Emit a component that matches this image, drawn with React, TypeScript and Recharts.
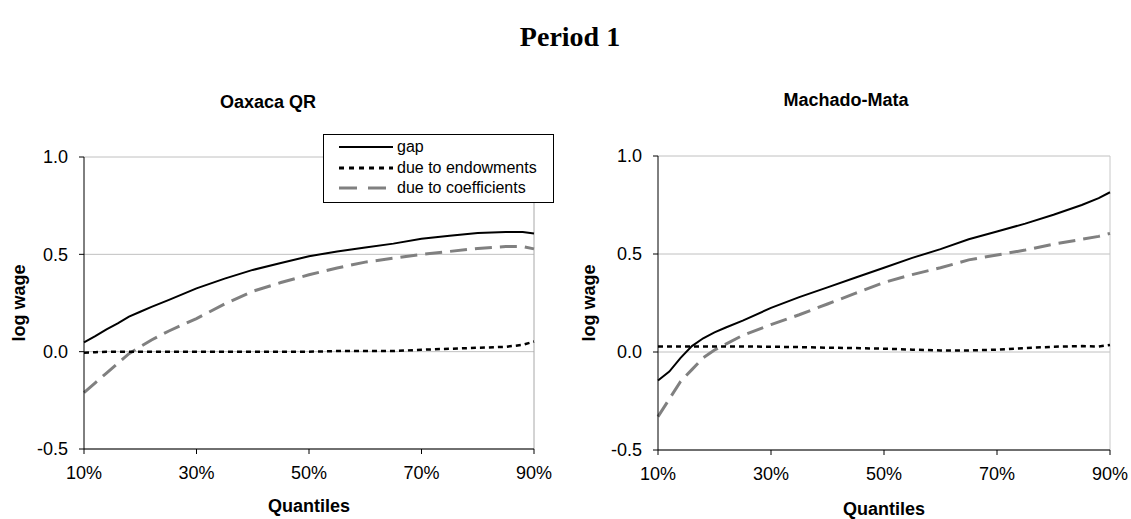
import React from 'react';
import { LineChart, Line, XAxis, YAxis, CartesianGrid, ReferenceLine } from 'recharts';

// quantile points (percent)
const quantiles = [10, 12, 14, 16, 18, 20, 22, 25, 30, 35, 40, 45, 50, 55, 60, 65, 70, 75, 80, 85, 88, 90];

// Oaxaca QR
const gapOaxaca = [0.048, 0.08, 0.115, 0.145, 0.18, 0.205, 0.23, 0.265, 0.325, 0.375, 0.42, 0.455, 0.49, 0.515, 0.535, 0.555, 0.58, 0.595, 0.61, 0.615, 0.615, 0.607];
const endowOaxaca = [-0.005, -0.003, 0, 0, 0, 0, 0, 0, 0, 0, 0, 0, 0, 0.003, 0.003, 0.003, 0.01, 0.015, 0.02, 0.025, 0.035, 0.052];
const coefOaxaca = [-0.21, -0.16, -0.11, -0.06, -0.01, 0.025, 0.06, 0.105, 0.17, 0.245, 0.31, 0.355, 0.395, 0.43, 0.46, 0.48, 0.5, 0.515, 0.53, 0.54, 0.54, 0.528];

// Machado-Mata
const gapMM = [-0.145, -0.1, -0.03, 0.03, 0.07, 0.1, 0.125, 0.16, 0.225, 0.28, 0.33, 0.38, 0.43, 0.48, 0.525, 0.575, 0.615, 0.655, 0.7, 0.75, 0.785, 0.815];
const endowMM = [0.028, 0.028, 0.028, 0.028, 0.028, 0.028, 0.028, 0.028, 0.027, 0.025, 0.022, 0.02, 0.017, 0.012, 0.008, 0.008, 0.012, 0.02, 0.027, 0.03, 0.028, 0.036];
const coefMM = [-0.33, -0.24, -0.15, -0.09, -0.03, 0.01, 0.04, 0.085, 0.14, 0.19, 0.245, 0.3, 0.355, 0.395, 0.43, 0.47, 0.495, 0.52, 0.55, 0.575, 0.59, 0.605];

const xTicks = [10, 30, 50, 70, 90];
const yTicks = [-0.5, 0, 0.5, 1];

const SANS = '"Liberation Sans", Arial, sans-serif';

const buildRows = (gap: number[], endow: number[], coef: number[]) =>
  quantiles.map((q, i) => ({ q, gap: gap[i], endow: endow[i], coef: coef[i] }));

interface PanelProps {
  rows: any[];
  width: number;
  yAxisWidth: number;
  top: number;
  plotHeight: number;
  right: number;
  borderColor: string;
}

const Panel: React.FC<PanelProps> = ({ rows, width, yAxisWidth, top, plotHeight, right, borderColor }) => {
  const height = 519;
  const tickStyle = { fontSize: 18, fill: '#000', fontFamily: SANS };
  return (
    <LineChart
      width={width}
      height={height}
      data={rows}
      margin={{ top, right, bottom: 0, left: 0 }}
    >
      <CartesianGrid vertical={false} stroke="#c0c0c0" />
      <ReferenceLine x={90} stroke={borderColor} />
      <XAxis
        type="number"
        dataKey="q"
        domain={[10, 90]}
        ticks={xTicks}
        tickFormatter={(v) => `${v}%`}
        height={height - top - plotHeight}
        stroke="#000"
        tickSize={5}
        tickMargin={12}
        tick={tickStyle}
        interval={0}
      />
      <YAxis
        type="number"
        domain={[-0.5, 1]}
        ticks={yTicks}
        tickFormatter={(v) => Number(v).toFixed(1)}
        width={yAxisWidth}
        stroke="#000"
        tickSize={5}
        tickMargin={11}
        tick={tickStyle}
        interval={0}
      />
      <Line type="linear" dataKey="coef" stroke="#808080" strokeWidth={3} strokeDasharray="17 8" dot={false} isAnimationActive={false} />
      <Line type="linear" dataKey="endow" stroke="#000" strokeWidth={2.5} strokeDasharray="5 4" dot={false} isAnimationActive={false} />
      <Line type="linear" dataKey="gap" stroke="#000" strokeWidth={2} dot={false} isAnimationActive={false} />
    </LineChart>
  );
};

const abs = (left: number, top: number, extra: React.CSSProperties = {}): React.CSSProperties => ({
  position: 'absolute',
  left,
  top,
  ...extra,
});

const LegendRow: React.FC<{ label: string; stroke: string; dash?: string; width: number; top: number }> = ({ label, stroke, dash, width, top }) => (
  <div style={abs(15, top, { display: 'flex', alignItems: 'center', whiteSpace: 'nowrap' })}>
    <svg width={54} height={6} style={{ display: 'block' }}>
      <line x1={0} y1={3} x2={54} y2={3} stroke={stroke} strokeWidth={width} strokeDasharray={dash} />
    </svg>
    <span style={{ marginLeft: 4, fontSize: 16, fontFamily: SANS, lineHeight: '18px' }}>{label}</span>
  </div>
);

export default function App() {
  const rowsOaxaca = buildRows(gapOaxaca, endowOaxaca, coefOaxaca);
  const rowsMM = buildRows(gapMM, endowMM, coefMM);

  const subTitle: React.CSSProperties = {
    fontFamily: SANS,
    fontWeight: 'bold',
    fontSize: 18,
    whiteSpace: 'nowrap',
    transform: 'translateX(-50%)',
  };
  const yLabel: React.CSSProperties = {
    fontFamily: SANS,
    fontWeight: 'bold',
    fontSize: 18,
    whiteSpace: 'nowrap',
    transform: 'translate(-50%, -50%) rotate(-90deg)',
  };

  return (
    <div style={{ position: 'absolute', left: 0, top: 0, width: 1131, height: 519, background: '#fff', overflow: 'hidden' }}>
      <div style={abs(0, 0)}>
        <Panel rows={rowsOaxaca} width={565} yAxisWidth={84} top={157} plotHeight={292} right={31} borderColor="#a8a8a8" />
      </div>
      <div style={abs(565, 0)}>
        <Panel rows={rowsMM} width={566} yAxisWidth={93} top={156} plotHeight={294} right={21} borderColor="#c8c8c8" />
      </div>

      <div style={abs(570, 21, { ...subTitle, fontFamily: '"Liberation Serif", "Times New Roman", serif', fontSize: 28, lineHeight: '32px' })}>
        Period 1
      </div>
      <div style={abs(268, 91, { ...subTitle, lineHeight: '22px' })}>Oaxaca QR</div>
      <div style={abs(846, 89, { ...subTitle, lineHeight: '22px' })}>Machado-Mata</div>

      <div style={abs(19, 303, yLabel)}>log wage</div>
      <div style={abs(589, 303, yLabel)}>log wage</div>

      <div style={abs(309, 495, { ...subTitle, lineHeight: '22px' })}>Quantiles</div>
      <div style={abs(884, 499, { ...subTitle, lineHeight: '20px' })}>Quantiles</div>

      <div style={abs(323, 134, { width: 229, height: 67, border: '1px solid #000', background: '#fff' })}>
        <LegendRow label="gap" stroke="#000" width={2} top={3} />
        <LegendRow label="due to endowments" stroke="#000" width={3} dash="5 5" top={24} />
        <LegendRow label="due to coefficients" stroke="#808080" width={3} dash="18 11" top={44} />
      </div>
    </div>
  );
}
